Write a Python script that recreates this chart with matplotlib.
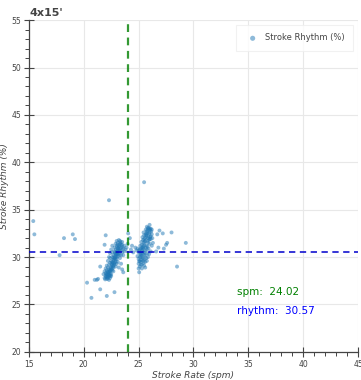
import matplotlib
matplotlib.use('Agg')
import matplotlib.pyplot as plt
import numpy as np

title = "4x15'"
mean_spm = 24.02
mean_rhythm = 30.57

# main cluster around 22-23.5 spm
c1 = [(21.9,27.8),(22.0,28.0),(22.1,27.7),(22.2,27.9),(22.3,28.1),(22.4,27.8),(22.0,28.3),(22.2,28.4),(22.5,28.2),(22.1,28.6),
      (22.3,28.7),(22.4,28.5),(22.6,28.6),(22.2,28.9),(22.5,29.0),(22.7,28.9),(22.3,29.2),(22.4,29.4),(22.6,29.3),(22.8,29.2),
      (22.5,29.6),(22.7,29.7),(22.9,29.5),(22.4,29.9),(22.6,30.0),(22.8,29.9),(23.0,29.8),(22.7,30.2),(22.9,30.3),(23.1,30.1),
      (22.6,30.5),(22.8,30.6),(23.0,30.5),(23.2,30.4),(22.9,30.8),(23.1,30.9),(23.3,30.7),(22.8,31.0),(23.0,31.2),(23.2,31.1),
      (23.4,31.0),(22.9,31.4),(23.1,31.5),(23.3,31.4),(23.0,31.7),(23.2,31.8),(23.5,31.3),(23.6,30.9),(23.7,31.2),(23.8,30.8),
      (23.9,31.0),(23.5,30.5),(23.4,30.2),(23.3,29.9),(23.1,29.5),(22.9,29.0),(22.7,28.5),(22.5,28.0),(22.3,27.6),(21.8,28.2),
      (21.9,28.5),(22.0,28.8),(22.1,29.1),(22.2,29.6),(22.3,30.0),(22.4,30.4),(22.5,30.8),(23.2,28.9),(23.4,29.3),(23.6,30.2),
      (22.15,27.95),(22.25,28.25),(22.35,28.55),(22.45,28.85),(22.55,29.15),(22.65,29.45),(22.75,29.75),(22.85,30.05),(22.95,30.35),(23.05,30.65),
      (23.15,30.95),(23.25,31.25),(23.35,31.55),(22.05,28.15),(22.2,28.1),(22.4,28.3),(22.6,28.8),(22.8,29.4),(23.0,30.0),(23.2,30.6),
      (23.0,29.3),(23.5,31.6),(23.7,30.6),(22.6,31.2),(24.0,31.4),
      (22.1,28.2),(22.3,28.4),(22.5,28.7),(22.7,29.1),(22.9,29.7),(23.1,30.3),(23.3,30.9),(23.4,31.3),(22.2,27.75),(22.4,28.05),
      (21.95,27.65),(22.05,27.9),(22.35,28.0),(22.15,28.45),(22.45,28.65),(22.65,29.05),(22.55,29.45),(22.75,29.35),(22.85,29.85),(22.95,30.15),
      (23.05,30.45),(23.15,30.75),(23.25,30.25),(23.45,30.7),(23.55,31.05),(23.05,31.05),(22.85,30.45),(22.7,29.95),(23.3,31.7),(23.1,31.3)]

# second cluster around 25-26.5 spm
c2 = [(25.0,29.3),(25.1,29.0),(25.2,29.5),(25.0,29.8),(25.3,29.2),(25.1,30.0),(25.2,30.3),(25.4,29.8),(25.0,30.5),(25.3,30.6),
      (25.5,30.2),(25.2,30.9),(25.4,31.0),(25.6,30.7),(25.3,31.3),(25.5,31.5),(25.7,31.2),(25.4,31.8),(25.6,32.0),(25.8,31.7),
      (25.5,32.3),(25.7,32.5),(25.9,32.2),(25.8,32.8),(26.0,32.6),(25.9,33.1),(26.1,33.0),(26.0,33.4),(26.2,32.4),(26.1,31.9),
      (26.0,31.4),(25.9,30.9),(25.8,30.4),(25.7,29.9),(25.6,29.5),(25.5,29.1),(25.3,28.8),(24.9,30.1),(24.8,30.7),(24.9,30.9),
      (25.05,30.7),(25.15,31.2),(25.25,31.6),(25.35,32.1),(25.45,32.6),(25.65,32.9),(25.75,33.2),(26.15,32.7),(26.25,32.0),(26.3,31.5),
      (26.2,31.2),(26.1,30.6),(25.95,30.3),(25.85,30.0),(25.75,29.6),(25.55,29.8),(25.45,30.5),(25.65,31.0),(25.85,31.5),(26.05,32.1),
      (25.1,29.6),(25.2,30.0),(25.3,30.4),(25.4,30.9),(25.5,31.3),(25.6,31.7),(25.7,32.1),(25.8,32.5),(25.9,32.9),(26.0,33.0),
      (25.15,30.35),(25.35,30.0),(25.55,30.45),(25.75,30.8),(25.95,31.8),(25.25,29.7),(25.45,29.4),(25.6,28.9),(26.1,32.2),(25.85,32.0),
      (25.2,29.2),(25.4,29.6),(25.6,30.2),(25.8,31.1),(26.0,31.9),(26.2,32.9),(25.1,30.8),(25.3,31.0),(25.5,31.9),(25.7,32.3),
      (25.05,29.55),(25.25,30.15),(25.35,30.75),(25.45,31.15),(25.55,31.65),(25.65,32.35),(25.75,32.7),(25.95,32.45),(26.05,32.85),(25.85,33.05)]

# scattered strokes
c3 = [(15.4,33.8),(15.5,32.4),(17.8,30.2),(18.2,32.0),(19.0,32.4),(19.2,31.9),(20.3,27.3),(20.7,25.7),(21.5,26.6),(22.1,25.9),
      (22.8,26.3),(21.0,27.6),(21.2,27.6),(21.3,27.7),(21.5,29.0),(23.5,28.7),(23.6,28.4),(21.9,31.3),(22.0,32.3),(22.3,36.0),
      (24.05,32.5),(24.2,32.0),(24.3,30.8),(24.5,30.5),(24.7,31.0),(25.0,28.8),(25.05,28.4),(25.5,37.9),(26.7,32.4),(26.9,32.8),
      (27.2,32.5),(27.6,31.5),(27.5,31.3),(28.0,32.6),(29.3,31.5),(28.5,29.0),(27.3,30.9),(26.6,30.6),(26.8,31.0),(24.4,31.2)]

pts = np.array(c1 + c2 + c3)
spm = pts[:, 0]
rhythm = pts[:, 1]

fig = plt.figure(figsize=(3.61, 3.80), dpi=100)
ax = fig.add_axes([0.080, 0.074, 0.912, 0.873])

ax.scatter(spm, rhythm, s=8, color='#1f77b4', alpha=0.5, edgecolors='none',
           label='Stroke Rhythm (%)', zorder=3)
ax.axvline(mean_spm, color='green', lw=1.6, ls=(0, (3.5, 2.5)), alpha=0.8, zorder=4)
ax.axhline(mean_rhythm, color='#0000cc', lw=1.3, ls=(0, (3.5, 2.5)), alpha=0.85, zorder=4)

ax.text(34, 26, 'spm:  %.2f' % mean_spm, color='green', fontsize=7.5)
ax.text(34, 24, 'rhythm:  %.2f' % mean_rhythm, color='blue', fontsize=7.5)

ax.set_xlim(15, 45)
ax.set_ylim(20, 55)
ax.set_xticks(np.arange(15, 46, 5))
ax.set_yticks(np.arange(20, 56, 5))
ax.set_xticks(np.arange(15, 45.1, 1), minor=True)
ax.set_yticks(np.arange(20, 55.1, 1), minor=True)
ax.grid(True, color='#e8e8e8', lw=0.8, zorder=0)
ax.set_axisbelow(True)

for s in ['top', 'right']:
    ax.spines[s].set_visible(False)
for s in ['left', 'bottom']:
    ax.spines[s].set_color('#444444')
    ax.spines[s].set_linewidth(0.9)
ax.tick_params(which='major', direction='inout', length=7, width=0.8, color='#444444',
               labelsize=5.5, labelcolor='#444444', pad=2)
ax.tick_params(which='minor', direction='out', length=3, width=0.7, color='#444444')

ax.set_xlabel('Stroke Rate (spm)', fontsize=6.5, style='italic', color='#444444', labelpad=2)
ax.set_ylabel('Stroke Rhythm (%)', fontsize=6.5, style='italic', color='#444444', labelpad=2)

fig.text(29 / 361, 1 - 13 / 380, title, fontsize=8, fontweight='bold', color='#444444', va='center')

leg = ax.legend(loc='upper right', fontsize=6, frameon=True, fancybox=False,
                borderpad=1.0, handletextpad=0.5, markerscale=1.3, borderaxespad=0.6)
leg.get_frame().set_edgecolor('#eeeeee')
leg.get_frame().set_linewidth(0.8)
for t in leg.get_texts():
    t.set_color('#444444')

fig.savefig('out.png', dpi=100)
